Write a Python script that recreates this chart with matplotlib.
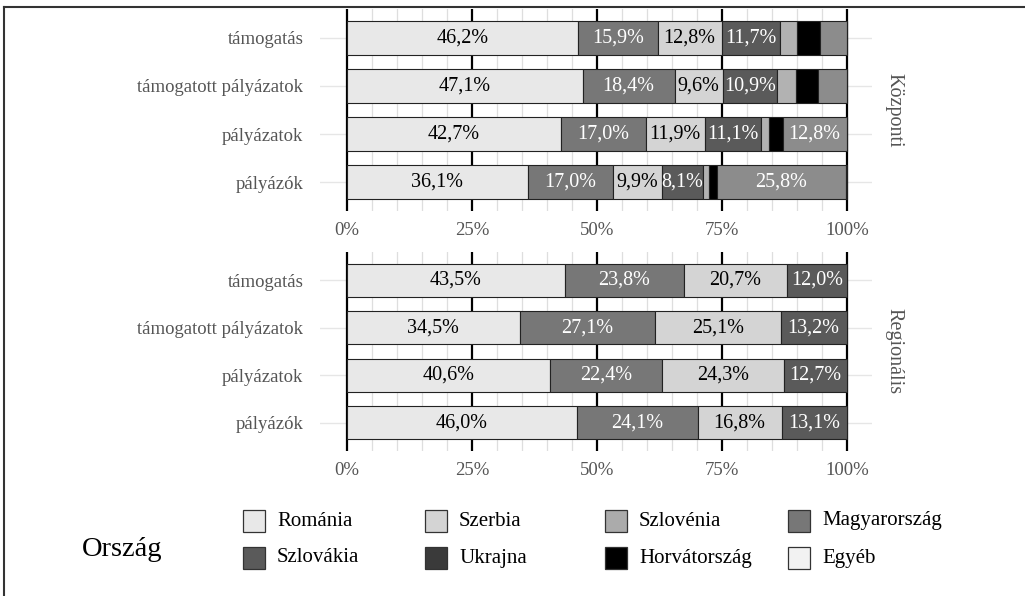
import matplotlib
matplotlib.use("Agg")
import matplotlib.pyplot as plt
from matplotlib.patches import Rectangle
from matplotlib.lines import Line2D
from matplotlib.colors import to_rgb

plt.rcParams['font.family'] = ['Liberation Serif', 'DejaVu Serif']

categories = ['támogatás', 'támogatott pályázatok', 'pályázatok', 'pályázók']

# Központi
kp_romania = [46.2, 47.1, 42.7, 36.1]
kp_magyar = [15.9, 18.4, 17.0, 17.0]
kp_szerbia = [12.8, 9.6, 11.9, 9.9]
kp_szlovakia = [11.7, 10.9, 11.1, 8.1]
kp_szlovenia = [3.3, 3.8, 1.7, 1.3]
kp_horvat = [4.7, 4.4, 2.7, 1.5]
kp_egyeb = [5.4, 5.8, 12.8, 25.8]
kp_ukrajna = [0.0, 0.0, 0.1, 0.3]

# Regionális
rg_romania = [43.5, 34.5, 40.6, 46.0]
rg_magyar = [23.8, 27.1, 22.4, 24.1]
rg_szerbia = [20.7, 25.1, 24.3, 16.8]
rg_szlovakia = [12.0, 13.2, 12.7, 13.1]

ticks = [0, 25, 50, 75, 100]
tick_labels = ['0%', '25%', '50%', '75%', '100%']

legend_names = ['Románia', 'Szerbia', 'Szlovénia', 'Magyarország',
                'Szlovákia', 'Ukrajna', 'Horvátország', 'Egyéb']
legend_colors = ['#e8e8e8', '#d4d4d4', '#ababab', '#777777',
                 '#5a5a5a', '#3a3a3a', '#000000', '#f2f2f2']

panels = [
    ('Központi', [(kp_romania, '#e8e8e8'), (kp_magyar, '#777777'), (kp_szerbia, '#d4d4d4'),
                  (kp_szlovakia, '#5a5a5a'), (kp_szlovenia, '#b2b2b2'), (kp_horvat, '#000000'),
                  (kp_egyeb, '#8c8c8c'), (kp_ukrajna, '#3a3a3a')]),
    ('Regionális', [(rg_romania, '#e8e8e8'), (rg_magyar, '#777777'), (rg_szerbia, '#d4d4d4'),
                    (rg_szlovakia, '#5a5a5a')]),
]

fig = plt.figure(figsize=(10.25, 5.96), dpi=100)
W, H = 1025, 596
boxes = [(320, 9, 552, 202), (320, 252, 552, 199)]

for (title, series), (x0, y0, w, h) in zip(panels, boxes):
    ax = fig.add_axes([x0 / W, 1 - (y0 + h) / H, w / W, h / H])
    ypos = list(range(len(categories)))
    left = [0.0] * len(categories)
    for vals, col in series:
        ax.barh(ypos, vals, left=left, height=0.7, color=col,
                edgecolor='#222222', linewidth=0.8, zorder=3)
        dark = sum(to_rgb(col)) / 3 < 0.55
        for i, v in enumerate(vals):
            if v >= 8:
                ax.text(left[i] + v / 2, i, f"{v:.1f}%".replace('.', ','),
                        ha='center', va='center', fontsize=14.5,
                        color='white' if dark else 'black', zorder=4)
        left = [a + b for a, b in zip(left, vals)]

    ax.set_xlim(-5.4, 105)
    ax.set_ylim(len(categories) - 0.4, -0.6)
    ax.set_xticks(ticks)
    ax.set_xticklabels(tick_labels)
    ax.set_xticks(range(0, 101, 5), minor=True)
    ax.set_yticks(ypos)
    ax.set_yticklabels(categories)
    ax.tick_params(axis='both', which='both', length=0, labelcolor='#555555', labelsize=13.5)
    ax.tick_params(axis='y', pad=12)
    ax.tick_params(axis='x', pad=8)
    ax.grid(axis='x', which='minor', color='#dedede', linewidth=0.9, zorder=0)
    ax.grid(axis='y', which='major', color='#e6e6e6', linewidth=1.0, zorder=0)
    for t in ticks:
        ax.axvline(t, color='black', linewidth=1.6, zorder=1)
    for s in ax.spines.values():
        s.set_visible(False)
    ax.set_axisbelow(True)
    ax.text(1 + 22 / w, 0.5, title, transform=ax.transAxes, rotation=-90,
            ha='center', va='center', fontsize=14.5, color='#555555')

# legend
fig.text(82 / W, 1 - 550 / H, 'Ország', fontsize=20.5, ha='left', va='center')
col_x = [243, 425, 605, 788]
row_y = [521, 558]
for k, (name, col) in enumerate(zip(legend_names, legend_colors)):
    cx = col_x[k % 4]
    cy = row_y[k // 4]
    fig.patches.append(Rectangle((cx / W, 1 - (cy + 11) / H), 22 / W, 22 / H,
                                 transform=fig.transFigure, facecolor=col,
                                 edgecolor='#333333', linewidth=0.9))
    fig.text((cx + 34) / W, 1 - cy / H, name, fontsize=15, ha='left', va='center')

# outer frame (top and left)
fig.add_artist(Line2D([4 / W, 1], [1 - 7 / H, 1 - 7 / H], transform=fig.transFigure,
                      color='#333333', linewidth=1.5))
fig.add_artist(Line2D([4 / W, 4 / W], [0, 1 - 7 / H], transform=fig.transFigure,
                      color='#333333', linewidth=1.5))

fig.savefig('out.png', dpi=100)
